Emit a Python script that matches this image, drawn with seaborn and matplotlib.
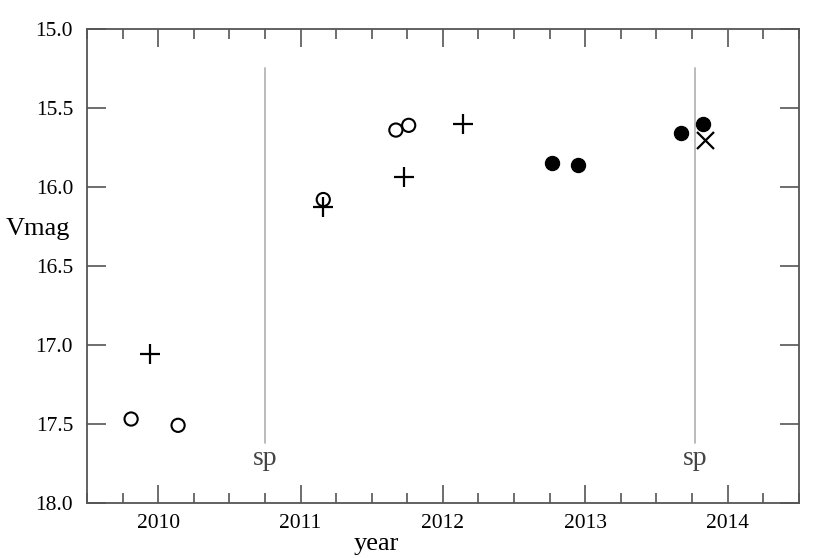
import pandas as pd
import matplotlib.pyplot as plt
from matplotlib.ticker import MultipleLocator
import seaborn as sns

# --- data ---
open_year = [2009.81, 2010.14, 2011.16, 2011.67, 2011.76]
open_vmag = [17.47, 17.51, 16.08, 15.64, 15.61]

plus_year = [2009.94, 2011.16, 2011.73, 2012.14]
plus_vmag = [17.06, 16.13, 15.94, 15.60]

filled_year = [2012.77, 2012.95, 2013.67, 2013.83]
filled_vmag = [15.85, 15.86, 15.66, 15.60]

cross_year = [2013.84]
cross_vmag = [15.70]

sp_years = [2010.75, 2013.77]

df = pd.concat([
    pd.DataFrame({"year": open_year, "Vmag": open_vmag, "kind": "open"}),
    pd.DataFrame({"year": plus_year, "Vmag": plus_vmag, "kind": "plus"}),
    pd.DataFrame({"year": filled_year, "Vmag": filled_vmag, "kind": "filled"}),
    pd.DataFrame({"year": cross_year, "Vmag": cross_vmag, "kind": "cross"}),
], ignore_index=True)

sns.set_theme(style="ticks")
plt.rcParams['font.family'] = ['Liberation Serif', 'DejaVu Serif']
plt.rcParams['axes.edgecolor'] = '#555555'
plt.rcParams['axes.labelcolor'] = 'black'
plt.rcParams['xtick.color'] = '#555555'
plt.rcParams['ytick.color'] = '#555555'
plt.rcParams['xtick.labelcolor'] = 'black'
plt.rcParams['ytick.labelcolor'] = 'black'

fig = plt.figure(figsize=(8.3, 5.58), dpi=100)
ax = fig.add_axes([0.1048, 0.0991, 0.8575, 0.8489])

# spectroscopy markers
for yr in sp_years:
    ax.plot([yr, yr], [15.25, 17.62], color='#b5b5b5', lw=1.3, zorder=1)
    ax.text(yr, 17.72, "sp", ha='center', va='center', fontsize=20, color='#444444')

styles = {
    "open": dict(marker='o', s=90, facecolor='none', edgecolor='black', linewidth=1.5),
    "plus": dict(marker='+', s=190, color='black', linewidth=1.6),
    "filled": dict(marker='o', s=105, color='black', edgecolor='black'),
    "cross": dict(marker='x', s=150, color='black', linewidth=1.6),
}
for kind, kw in styles.items():
    sns.scatterplot(data=df[df["kind"] == kind], x="year", y="Vmag", ax=ax,
                    legend=False, zorder=3, **kw)

ax.set_xlim(2009.5, 2014.5)
ax.set_ylim(18.0, 15.0)
ax.xaxis.set_major_locator(MultipleLocator(1))
ax.xaxis.set_minor_locator(MultipleLocator(0.25))
ax.yaxis.set_major_locator(MultipleLocator(0.5))
ax.xaxis.set_major_formatter(lambda v, p: f"{int(round(v))}")
ax.yaxis.set_major_formatter(lambda v, p: f"{v:.1f}")

ax.tick_params(which='both', direction='in', top=True, right=True, width=1.2)
ax.tick_params(axis='x', which='major', length=13, pad=8, labelsize=15.5)
ax.tick_params(axis='x', which='minor', length=7)
ax.tick_params(axis='y', which='major', length=14, pad=10, labelsize=15.5)
for sp in ax.spines.values():
    sp.set_linewidth(1.3)

ax.set_xlabel("year", fontsize=19)
ax.set_ylabel("Vmag", fontsize=19, rotation=0, va='center', ha='center')
ax.xaxis.set_label_coords(0.407, -0.064)
ax.yaxis.set_label_coords(-0.069, 0.577)

fig.savefig("out.png", dpi=100)
